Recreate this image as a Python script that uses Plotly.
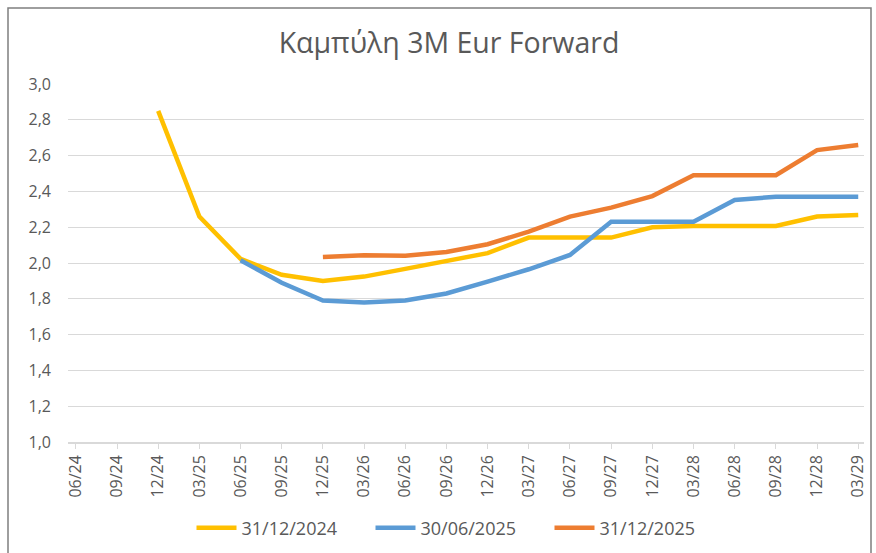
import plotly.graph_objects as go

categories = ["06/24", "09/24", "12/24", "03/25", "06/25", "09/25", "12/25", "03/26",
              "06/26", "09/26", "12/26", "03/27", "06/27", "09/27", "12/27", "03/28",
              "06/28", "09/28", "12/28", "03/29"]

series_2024 = [None, None, 2.85, 2.26, 2.023, 1.934, 1.90, 1.924, 1.967, 2.012, 2.055,
               2.142, 2.142, 2.142, 2.20, 2.207, 2.207, 2.207, 2.26, 2.268]
series_2025_06 = [None, None, None, None, 2.015, 1.89, 1.79, 1.78, 1.79, 1.83, 1.896,
                  1.965, 2.045, 2.231, 2.231, 2.231, 2.352, 2.37, 2.37, 2.37]
series_2025_12 = [None, None, None, None, None, None, 2.034, 2.043, 2.04, 2.062, 2.105,
                  2.175, 2.259, 2.309, 2.374, 2.49, 2.49, 2.49, 2.631, 2.659]

series_names = ["31/12/2024", "30/06/2025", "31/12/2025"]
series_colors = ["#FFC000", "#5B9BD5", "#ED7D31"]
y_ticks = [1.0, 1.2, 1.4, 1.6, 1.8, 2.0, 2.2, 2.4, 2.6, 2.8, 3.0]
y_tick_labels = ["1,0", "1,2", "1,4", "1,6", "1,8", "2,0", "2,2", "2,4", "2,6", "2,8", "3,0"]

fig = go.Figure()
for name, vals, col in zip(series_names, [series_2024, series_2025_06, series_2025_12], series_colors):
    fig.add_trace(go.Scatter(x=categories, y=vals, name=name, mode="lines",
                             line=dict(color=col, width=4.5), connectgaps=False))

W, H = 876, 553
L, R, T, B = 68, 12, 84, 111
pw, ph = W - L - R, H - T - B

def px(x):
    return (x - L) / pw

def py(y):
    return (H - B - y) / ph

fig.update_layout(
    width=W, height=H,
    margin=dict(l=L, r=R, t=T, b=B, autoexpand=False),
    paper_bgcolor="white", plot_bgcolor="white",
    font=dict(family="Open Sans", color="#595959", size=15),
    title=dict(text="Καμπύλη 3M Eur Forward", x=449 / W, xanchor="center",
               y=1 - 43 / H, yanchor="middle",
               font=dict(family="Open Sans", size=28.5, color="#595959")),
    legend=dict(orientation="h", x=px(460), xanchor="center", y=py(528), yanchor="middle",
                font=dict(size=18, color="#595959"), itemwidth=40, traceorder="normal",
                entrywidth=124, entrywidthmode="pixels"),
    xaxis=dict(type="category", categoryorder="array", categoryarray=categories,
               range=[-0.19, 19.14], showgrid=False, showline=True, linecolor="#d9d9d9",
               linewidth=1.5, ticks="outside", ticklen=5, tickcolor="#d9d9d9",
               tickangle=-90, tickfont=dict(size=16, color="#595959"), fixedrange=True,
               automargin=False),
    yaxis=dict(range=[1.0, 3.0], tickvals=y_ticks, ticktext=y_tick_labels,
               showgrid=True, gridcolor="#d9d9d9", gridwidth=1, zeroline=False,
               showline=False, ticks="", ticklabelstandoff=16, automargin=False,
               tickfont=dict(size=16, color="#595959")),
    showlegend=True,
)

fig.add_shape(type="rect", xref="paper", yref="paper",
              x0=px(8), x1=px(871), y0=py(570), y1=py(8),
              line=dict(color="#7f7f7f", width=1.5), layer="below")

fig.write_html("out.html", config={"displayModeBar": False},
               post_script="document.body.style.margin='0px';")
